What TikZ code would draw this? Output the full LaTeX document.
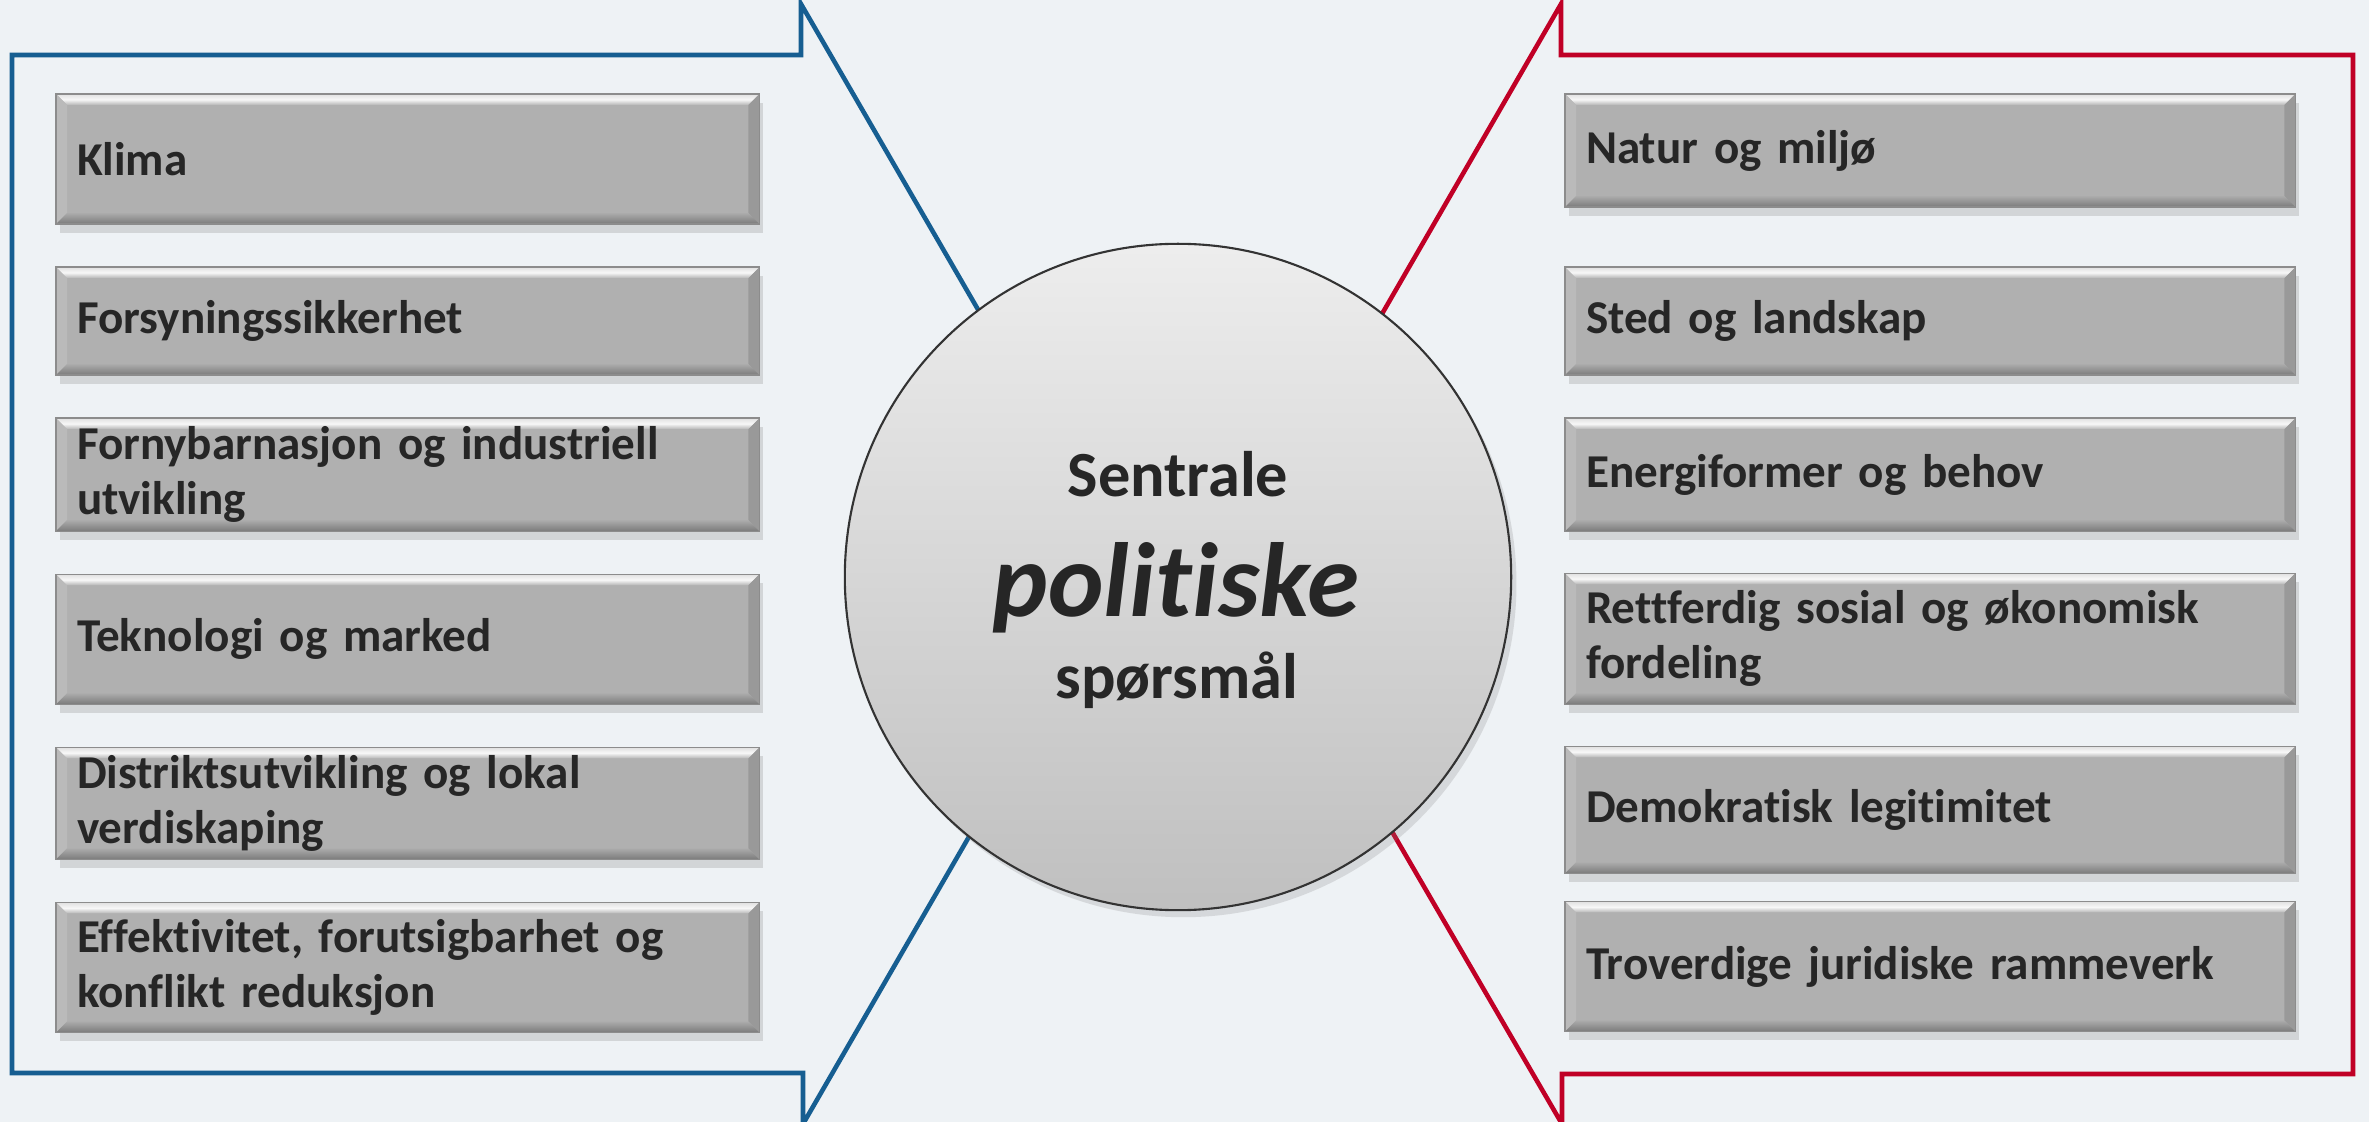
\documentclass[tikz,border=0pt]{standalone}
\usepackage{fontspec}
\setmainfont{Carlito}[Ligatures=NoCommon]
\usetikzlibrary{positioning, shadows}

\definecolor{bgcol}{RGB}{238,242,245}
\definecolor{leftblue}{RGB}{22,94,145}
\definecolor{rightred}{RGB}{192,0,38}
\definecolor{boxgray}{RGB}{176,176,176}
\definecolor{txtgray}{RGB}{38,38,38}

\newlength\bevelsize
\setlength\bevelsize{0.11cm}

\begin{document}
\begin{tikzpicture}[
    x=0.01cm, y=-0.01cm,
    node distance=0.43cm,
    topicbox/.style={rectangle, fill=boxgray, draw=black!45, line width=0.4pt,
        inner xsep=0.21cm, inner ysep=0pt, outer sep=0pt, align=left, text=txtgray,
        font=\fontsize{13.4pt}{15.6pt}\selectfont\bfseries,
        drop shadow={opacity=0.25, shadow xshift=1pt, shadow yshift=-2.5pt},
        path picture={
            \coordinate (bnw) at (path picture bounding box.north west);
            \coordinate (bne) at (path picture bounding box.north east);
            \coordinate (bsw) at (path picture bounding box.south west);
            \coordinate (bse) at (path picture bounding box.south east);
            \shade[top color=black!12, bottom color=black!29, middle color=black!3]
                (bnw) -- (bne) -- ([shift={(-\bevelsize,-\bevelsize)}]bne) -- ([shift={(\bevelsize,-\bevelsize)}]bnw) -- cycle;
            \fill[black!27] (bnw) -- ([shift={(\bevelsize,-\bevelsize)}]bnw) -- ([shift={(\bevelsize,\bevelsize)}]bsw) -- (bsw) -- cycle;
            \fill[black!40] (bne) -- ([shift={(-\bevelsize,-\bevelsize)}]bne) -- ([shift={(-\bevelsize,\bevelsize)}]bse) -- (bse) -- cycle;
            \shade[top color=black!33, bottom color=black!52]
                (bsw) -- (bse) -- ([shift={(-\bevelsize,\bevelsize)}]bse) -- ([shift={(\bevelsize,\bevelsize)}]bsw) -- cycle;
        }},
    leftbox/.style={topicbox, text width=6.61cm},
    rightbox/.style={topicbox, text width=6.88cm},
    callout/.style={line width=1.3pt, line join=miter},
    core/.style={circle, draw=black!80, line width=0.6pt, minimum size=6.66cm,
        top color=black!7, bottom color=black!25,
        drop shadow={opacity=0.22, shadow xshift=1.5pt, shadow yshift=-2pt}},
    coretext/.style={anchor=base, inner sep=0pt, text=txtgray}
]
\path[use as bounding box, fill=bgcol] (0,0) rectangle (2369,1122);

% callout frames
\draw[callout, leftblue] (801,55) -- (12,55) -- (12,1073) -- (803,1073) -- (803,1124) -- (1126,565) -- (801,4) -- cycle;
\draw[callout, rightred] (1561,55) -- (2353,55) -- (2353,1074) -- (1562,1074) -- (1562,1124) -- (1237,565) -- (1561,4) -- cycle;

% left column
\node (klima) [leftbox, minimum height=1.30cm, anchor=north west] at (56,94) {Klima};
\node (forsyning) [leftbox, minimum height=1.08cm, below=of klima] {Forsyningssikkerhet};
\node (fornybar) [leftbox, minimum height=1.13cm, below=of forsyning] {Fornybarnasjon og industriell\\utvikling};
\node (teknologi) [leftbox, minimum height=1.30cm, below=of fornybar] {Teknologi og marked};
\node (distrikt) [leftbox, minimum height=1.12cm, below=of teknologi] {Distriktsutvikling og lokal\\verdiskaping};
\node (effektiv) [leftbox, minimum height=1.30cm, below=of distrikt] {Effektivitet, forutsigbarhet og\\konflikt reduksjon};

% right column
\node (natur) [rightbox, minimum height=1.13cm, anchor=north west] at (1565,94) {Natur og miljø};
\node (sted) [rightbox, minimum height=1.08cm, below=0.60cm of natur] {Sted og landskap};
\node (energi) [rightbox, minimum height=1.13cm, below=of sted] {Energiformer og behov};
\node (rettferdig) [rightbox, minimum height=1.31cm, below=0.42cm of energi] {Rettferdig sosial og økonomisk\\fordeling};
\node (demokrati) [rightbox, minimum height=1.27cm, below=0.42cm of rettferdig] {Demokratisk legitimitet};
\node (juridisk) [rightbox, minimum height=1.30cm, below=0.28cm of demokrati] {Troverdige juridiske rammeverk};

% centre
\node (core) [core] at (1178,577) {};
\node (sentrale) [coretext, font=\fontsize{18.3pt}{20pt}\selectfont\bfseries] at (1178,497) {Sentrale};
\node (politiske) [coretext, font=\fontsize{30pt}{34pt}\selectfont\bfseries\itshape] at (1176,617) {politiske};
\node (sporsmal) [coretext, font=\fontsize{18.3pt}{20pt}\selectfont\bfseries] at (1177,699) {spørsmål};
\end{tikzpicture}
\end{document}
